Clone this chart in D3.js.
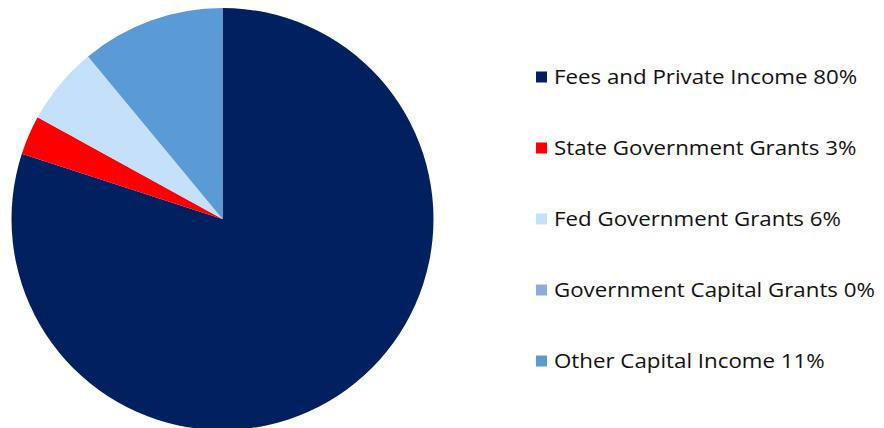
<!DOCTYPE html>
<html><head><meta charset="utf-8">
<script src="https://cdn.jsdelivr.net/npm/d3@7"></script>
<style>body{margin:0;background:#fff}svg{display:block}</style>
</head><body>
<svg id="c" width="884" height="428"></svg>
<script>
const categories = ["Fees and Private Income", "State Government Grants", "Fed Government Grants", "Government Capital Grants", "Other Capital Income"];
const values = [80, 3, 6, 0, 11];
const labels = ["80%", "3%", "6%", "0%", "11%"];
const colors = ["#002060", "#FF0000", "#C5E0FA", "#8FAADC", "#5B9BD5"];

const svg = d3.select("#c");
const cx = 222.5, cy = 219, r = 211;
const pie = d3.pie().sort(null).value(d => d.v);
const arc = d3.arc().innerRadius(0).outerRadius(r);
const data = categories.map((c, i) => ({c, v: values[i], col: colors[i], lab: labels[i]}));
svg.append("g").attr("transform", `translate(${cx},${cy})`)
  .selectAll("path").data(pie(data)).join("path")
  .attr("d", arc).attr("fill", d => d.data.col);

const leg = svg.append("g");
const y = d3.scalePoint().domain(categories).range([77, 361]);
const rows = leg.selectAll("g").data(data).join("g")
  .attr("transform", d => `translate(536,${y(d.c)})`);
rows.append("rect").attr("x", 0).attr("y", -5.5).attr("width", 11).attr("height", 11).attr("fill", d => d.col);
rows.append("text").attr("transform", "translate(18,7.3) scale(1.115,1)")
  .attr("font-family", "'Open Sans', sans-serif").attr("font-size", 20).attr("fill", "#111")
  .text(d => `${d.c} ${d.lab}`);
</script>
</body></html>
